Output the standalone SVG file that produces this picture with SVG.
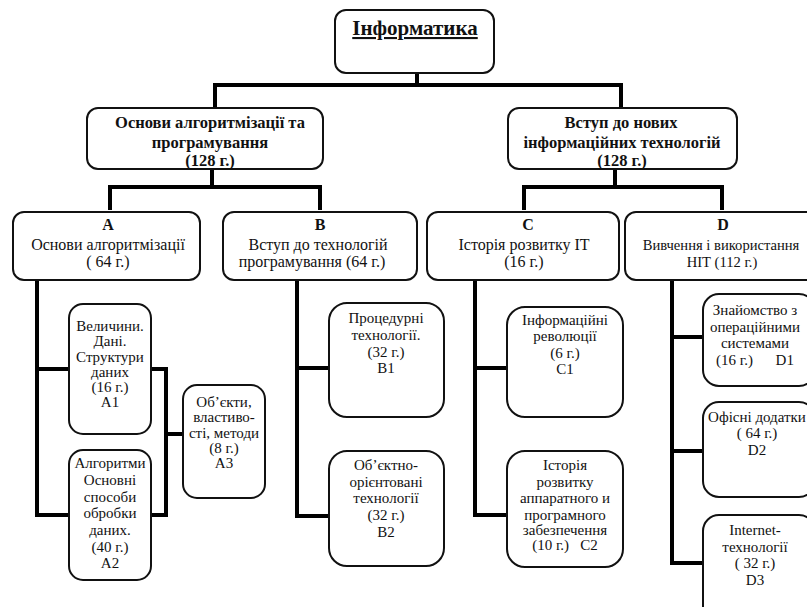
<svg xmlns="http://www.w3.org/2000/svg" width="807" height="607" viewBox="0 0 807 607">
<style>
.box{fill:#fff;stroke:#111;stroke-width:2}
.con{fill:none;stroke:#000;stroke-width:4;stroke-linejoin:miter}
text{fill:#111;text-anchor:middle}
.t0{font-size:21px;font-weight:bold;text-decoration:underline}
.t1{font-size:16.5px;font-weight:bold}
.t2{font-size:16px}
.t2s{font-size:14.6px}
.t2b{font-size:16px;font-weight:bold}
.t3{font-size:15px}
</style>
<rect width="807" height="607" fill="#fff"/>
<g id="connectors">
<path class="con" d="M417 73V85M215 108V85H621V108"/>
<path class="con" d="M212 169V187M110 210V187H320V210"/>
<path class="con" d="M615 169V187M524 210V187H722V210"/>
<path class="con" d="M37 280V515H69M37 369H69"/>
<path class="con" d="M151 369H166V515H151M166 434H183"/>
<path class="con" d="M297 280V516H329M297 368H329"/>
<path class="con" d="M475 280V515H507M475 368H507"/>
<path class="con" d="M672 280V563H703M672 337H703M672 451H703"/>
</g>
<g font-family="'Liberation Serif', 'Times New Roman', 'DejaVu Serif', serif">
<g id="root">
<rect class="box" x="335" y="10" width="159" height="63" rx="11"/>
<text class="t0" x="415" y="35">Інформатика</text>
</g>
<g id="n1">
<rect class="box" x="87" y="108" width="236" height="61" rx="11"/>
<text class="t1" x="210" y="128">Основи алгоритмізації та</text>
<text class="t1" x="210" y="148">програмування</text>
<text class="t1" x="210" y="166">(128 г.)</text>
</g>
<g id="n2">
<rect class="box" x="508" y="108" width="229" height="61" rx="11"/>
<text class="t1" x="621" y="128">Вступ до нових</text>
<text class="t1" x="622" y="148">інформаційних технологій</text>
<text class="t1" x="622" y="166">(128 г.)</text>
</g>
<g id="A">
<rect class="box" x="13" y="212" width="187" height="68" rx="11"/>
<text class="t2b" x="108" y="230">A</text>
<text class="t2" x="108" y="250">Основи алгоритмізації</text>
<text class="t2" x="108" y="267">( 64 г.)</text>
</g>
<g id="B">
<rect class="box" x="223" y="212" width="194" height="68" rx="11"/>
<text class="t2b" x="320" y="230">B</text>
<text class="t2" x="318" y="250">Вступ до технологій</text>
<text class="t2" x="312" y="267">програмування (64 г.)</text>
</g>
<g id="C">
<rect class="box" x="427" y="212" width="192" height="68" rx="11"/>
<text class="t2b" x="528" y="230">C</text>
<text class="t2" x="524" y="250">Історія розвитку IT</text>
<text class="t2" x="524" y="267">(16 г.)</text>
</g>
<g id="D">
<rect class="box" x="625" y="212" width="192" height="68" rx="11"/>
<text class="t2b" x="723" y="230">D</text>
<text class="t2s" x="721" y="250">Вивчення і використання</text>
<text class="t2s" x="722" y="267">НІТ (112 г.)</text>
</g>
<g id="A1">
<rect class="box" x="69" y="304" width="82" height="130" rx="14"/>
<text class="t3" x="110" y="331">Величини.</text>
<text class="t3" x="110" y="346">Дані.</text>
<text class="t3" x="110" y="362">Структури</text>
<text class="t3" x="110" y="377">даних</text>
<text class="t3" x="110" y="392">(16 г.)</text>
<text class="t3" x="110" y="407">A1</text>
</g>
<g id="A2">
<rect class="box" x="69" y="450" width="82" height="130" rx="14"/>
<text class="t3" x="110" y="468">Алгоритми</text>
<text class="t3" x="110" y="485">Основні</text>
<text class="t3" x="110" y="502">способи</text>
<text class="t3" x="110" y="518">обробки</text>
<text class="t3" x="110" y="535">даних.</text>
<text class="t3" x="110" y="552">(40 г.)</text>
<text class="t3" x="110" y="568">A2</text>
</g>
<g id="A3">
<rect class="box" x="183" y="385" width="82" height="113" rx="14"/>
<text class="t3" x="224" y="407">Об’єкти,</text>
<text class="t3" x="224" y="422">властиво-</text>
<text class="t3" x="224" y="438">сті, методи</text>
<text class="t3" x="224" y="453">(8 г.)</text>
<text class="t3" x="224" y="468">A3</text>
</g>
<g id="B1">
<rect class="box" x="329" y="303" width="115" height="114" rx="18"/>
<text class="t3" x="386" y="323">Процедурні</text>
<text class="t3" x="386" y="340">технології.</text>
<text class="t3" x="386" y="357">(32 г.)</text>
<text class="t3" x="386" y="373">B1</text>
</g>
<g id="B2">
<rect class="box" x="329" y="451" width="115" height="115" rx="18"/>
<text class="t3" x="386" y="470">Об’єктно-</text>
<text class="t3" x="386" y="487">орієнтовані</text>
<text class="t3" x="386" y="503">технології</text>
<text class="t3" x="386" y="520">(32 г.)</text>
<text class="t3" x="386" y="537">B2</text>
</g>
<g id="C1">
<rect class="box" x="507" y="307" width="116" height="110" rx="18"/>
<text class="t3" x="565" y="325">Інформаційні</text>
<text class="t3" x="565" y="341">революції</text>
<text class="t3" x="565" y="358">(6 г.)</text>
<text class="t3" x="565" y="374">C1</text>
</g>
<g id="C2">
<rect class="box" x="507" y="451" width="116" height="116" rx="18"/>
<text class="t3" x="565" y="470">Історія</text>
<text class="t3" x="565" y="487">розвитку</text>
<text class="t3" x="565" y="503">аппаратного и</text>
<text class="t3" x="565" y="520">програмного</text>
<text class="t3" x="565" y="535">забезпечення</text>
<text class="t3" x="565" y="550" xml:space="preserve">(10 г.)   C2</text>
</g>
<g id="D1">
<rect class="box" x="703" y="294" width="112" height="92" rx="16"/>
<text class="t3" x="755" y="315">Знайомство з</text>
<text class="t3" x="755" y="332">операційними</text>
<text class="t3" x="755" y="348">системами</text>
<text class="t3" x="755" y="365" xml:space="preserve">(16 г.)      D1</text>
</g>
<g id="D2">
<rect class="box" x="703" y="402" width="112" height="95" rx="16"/>
<text class="t3" x="757" y="422">Офісні додатки</text>
<text class="t3" x="757" y="438">( 64 г.)</text>
<text class="t3" x="757" y="455">D2</text>
</g>
<g id="D3">
<rect class="box" x="703" y="515" width="112" height="110" rx="16"/>
<text class="t3" x="755" y="535">Internet-</text>
<text class="t3" x="755" y="552">технології</text>
<text class="t3" x="755" y="568">( 32 г.)</text>
<text class="t3" x="755" y="585">D3</text>
</g>
</g>
</svg>
